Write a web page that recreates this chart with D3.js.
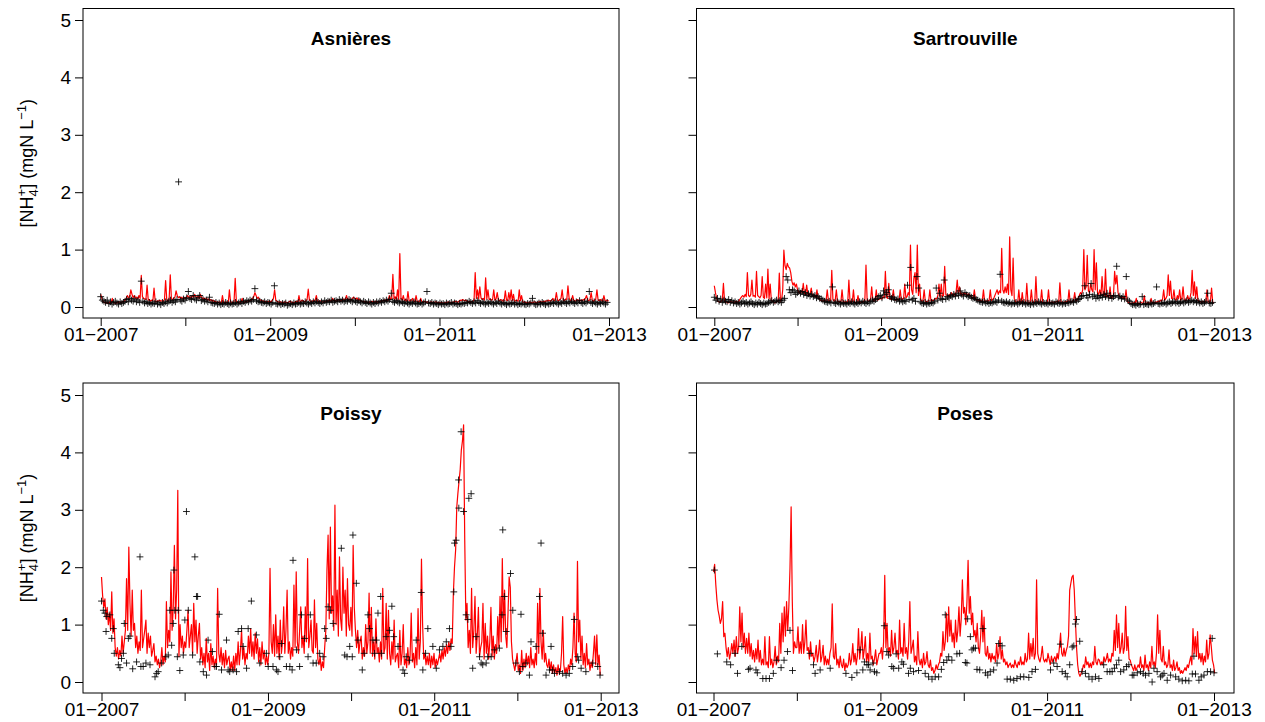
<!DOCTYPE html>
<html>
<head>
<meta charset="utf-8">
<script src="https://cdn.jsdelivr.net/npm/d3@7"></script>
<style>
  body { margin: 0; background: #fff; }
  svg { display: block; }
  text { font-family: "Liberation Sans", Arial, Helvetica, sans-serif; fill: #000; }
</style>
</head>
<body>
<svg id="chart" width="1265" height="722"></svg>
<script>
// Simulated ammonium (mgN/L), one value every 5 days from 2007-01-01
const simStepDays = 5;
// Observed ammonium: weekly samples (index = week since 2007-01-01) or [day since 2007-01-01, value]
const obsStepDays = 7;

const asnieresSim = [
  0.22,0.15,0.1,0.08,0.07,0.08,0.06,0.07,0.09,0.07, 0.15,0.08,0.07,0.06,0.08,0.07,0.09,0.08,0.07,0.1,
  0.09,0.12,0.15,0.2,0.16,0.18,0.3,0.22,0.16,0.2, 0.15,0.17,0.14,0.2,0.15,0.55,0.18,0.15,0.14,0.13,
  0.38,0.12,0.13,0.1,0.12,0.11,0.33,0.1,0.09,0.11, 0.1,0.12,0.1,0.11,0.1,0.13,0.46,0.12,0.11,0.13,
  0.56,0.14,0.13,0.15,0.17,0.28,0.2,0.16,0.18,0.15, 0.17,0.14,0.16,
  0.15,0.17,0.2,0.16,0.18,0.15,0.2,0.17,0.22,0.18, 0.16,0.19,0.15,0.22,0.17,0.14,0.16,0.13,0.15,0.12,
  0.14,0.11,0.13,0.1,0.12,0.09,0.1,0.08,0.07,0.09, 0.08,0.07,0.2,0.08,0.07,0.09,0.08,0.07,0.3,0.09,
  0.08,0.07,0.09,0.5,0.1,0.08,0.07,0.09,0.08,0.15, 0.09,0.08,0.1,0.09,0.11,0.1,0.12,0.12,0.15,0.18,
  0.25,0.2,0.15,0.17,0.13,0.12,0.1,0.11,0.09,0.1, 0.08,0.09,0.1,
  0.1,0.09,0.12,0.15,0.3,0.12,0.1,0.09,0.08,0.09, 0.08,0.07,0.08,0.09,0.08,0.07,0.08,0.1,0.09,0.08,
  0.07,0.08,0.09,0.1,0.08,0.2,0.09,0.1,0.12,0.1, 0.09,0.11,0.13,0.31,0.12,0.1,0.09,0.11,0.1,0.12,
  0.2,0.1,0.09,0.11,0.1,0.09,0.08,0.1,0.09,0.11, 0.1,0.12,0.11,0.1,0.15,0.11,0.12,0.1,0.11,0.13,
  0.12,0.1,0.12,0.14,0.12,0.13,0.2,0.12,0.14,0.13, 0.12,0.15,0.17,
  0.15,0.13,0.16,0.12,0.14,0.11,0.1,0.09,0.1,0.08, 0.09,0.08,0.07,0.09,0.08,0.1,0.09,0.08,0.1,0.09,
  0.08,0.1,0.09,0.11,0.1,0.12,0.1,0.13,0.11,0.12, 0.2,0.13,0.15,0.57,0.14,0.18,0.12,0.3,0.13,0.93,
  0.15,0.12,0.2,0.11,0.13,0.1,0.27,0.11,0.1,0.12, 0.15,0.1,0.09,0.2,0.1,0.09,0.1,0.15,0.09,0.08,
  0.1,0.09,0.08,0.09,0.07,0.08,0.09,0.08,0.07,0.08, 0.09,0.08,0.07,
  0.08,0.07,0.08,0.07,0.06,0.08,0.07,0.08,0.09,0.07, 0.08,0.07,0.09,0.08,0.1,0.09,0.08,0.1,0.12,0.11,
  0.13,0.12,0.11,0.12,0.1,0.09,0.1,0.08,0.09,0.1, 0.12,0.6,0.15,0.3,0.14,0.35,0.16,0.13,0.15,0.12,
  0.51,0.14,0.3,0.13,0.14,0.12,0.13,0.3,0.12,0.14, 0.25,0.12,0.11,0.13,0.12,0.1,0.11,0.28,0.12,0.11,
  0.25,0.12,0.3,0.11,0.22,0.1,0.11,0.12,0.1,0.3, 0.11,0.2,0.09,
  0.08,0.09,0.07,0.08,0.07,0.09,0.08,0.07,0.08,0.09, 0.08,0.07,0.09,0.08,0.1,0.09,0.08,0.1,0.09,0.11,
  0.1,0.12,0.11,0.1,0.12,0.15,0.11,0.12,0.25,0.12, 0.11,0.13,0.15,0.3,0.12,0.11,0.14,0.13,0.37,0.15,
  0.12,0.11,0.2,0.12,0.1,0.11,0.13,0.12,0.1,0.12, 0.11,0.13,0.12,0.15,0.2,0.12,0.11,0.13,0.25,0.12,
  0.1,0.12,0.14,0.3,0.12,0.11,0.13,0.12,0.1,0.2, 0.11,0.1,0.12,0.1
];

const sartrouvilleSim = [
  0.37,0.25,0.15,0.1,0.09,0.08,0.1,0.12,0.41,0.1, 0.08,0.09,0.07,0.08,0.1,0.09,0.08,0.07,0.09,0.1,
  0.08,0.09,0.12,0.15,0.18,0.2,0.17,0.22,0.18,0.6, 0.2,0.18,0.22,0.47,0.19,0.2,0.17,0.62,0.2,0.18,
  0.16,0.2,0.53,0.17,0.15,0.4,0.16,0.66,0.14,0.4, 0.12,0.1,0.09,0.07,0.08,0.1,0.09,0.59,0.1,0.12,
  0.3,0.99,0.72,0.65,0.76,0.7,0.68,0.6,0.45,0.38, 0.42,0.35,0.4,
  0.3,0.26,0.24,0.28,0.25,0.41,0.24,0.22,0.38,0.22, 0.2,0.23,0.33,0.2,0.18,0.2,0.17,0.3,0.16,0.14,
  0.12,0.11,0.1,0.12,0.1,0.11,0.3,0.12,0.1,0.11, 0.64,0.13,0.1,0.11,0.3,0.1,0.09,0.1,0.09,0.3,
  0.1,0.08,0.09,0.08,0.09,0.47,0.1,0.08,0.09,0.3, 0.08,0.07,0.09,0.2,0.08,0.07,0.09,0.08,0.1,0.12,
  0.73,0.12,0.1,0.11,0.13,0.35,0.12,0.1,0.11,0.3, 0.12,0.13,0.14,
  0.15,0.14,0.18,0.16,0.62,0.17,0.15,0.41,0.14,0.13, 0.15,0.3,0.13,0.12,0.14,0.13,0.12,0.3,0.13,0.14,
  0.15,0.4,0.16,0.18,0.25,0.2,1.08,0.3,0.22,0.5, 0.6,0.25,1.08,0.2,0.4,0.12,0.1,0.11,0.3,0.1,
  0.09,0.1,0.11,0.3,0.1,0.12,0.11,0.13,0.15,0.14, 0.2,0.4,0.16,0.4,0.18,0.2,0.71,0.22,0.2,0.18,
  0.22,0.2,0.25,0.21,0.23,0.2,0.26,0.47,0.24,0.35, 0.22,0.24,0.2,
  0.25,0.22,0.24,0.2,0.23,0.21,0.18,0.16,0.15,0.3, 0.14,0.12,0.13,0.11,0.12,0.1,0.11,0.3,0.1,0.09,
  0.11,0.1,0.12,0.3,0.11,0.13,0.15,0.2,0.25,0.3, 0.22,0.28,0.25,1.02,0.3,0.24,0.35,0.25,0.4,0.22,
  1.22,0.3,0.2,0.85,0.15,0.1,0.08,0.07,0.3,0.08, 0.07,0.25,0.08,0.07,0.09,0.41,0.08,0.07,0.09,0.3,
  0.08,0.07,0.09,0.53,0.1,0.08,0.07,0.09,0.3,0.08, 0.07,0.08,0.07,
  0.08,0.3,0.08,0.07,0.09,0.08,0.07,0.08,0.1,0.09, 0.08,0.42,0.09,0.08,0.07,0.09,0.08,0.1,0.09,0.3,
  0.09,0.08,0.1,0.12,0.25,0.1,0.12,0.15,0.2,0.25, 0.22,0.3,1.0,0.3,0.35,0.9,0.28,0.25,0.4,0.3,
  0.26,1.0,0.3,0.77,0.25,0.22,0.3,0.2,0.53,0.22, 0.2,0.66,0.18,0.2,0.16,0.35,0.15,0.17,0.2,0.62,
  0.4,0.55,0.25,0.2,0.17,0.15,0.18,0.16,0.14,0.3, 0.1,0.08,0.07,
  0.06,0.07,0.06,0.08,0.07,0.15,0.06,0.07,0.06,0.08, 0.07,0.06,0.2,0.07,0.06,0.08,0.07,0.06,0.15,0.07,
  0.08,0.07,0.09,0.08,0.1,0.09,0.12,0.1,0.13,0.3, 0.12,0.15,0.2,0.56,0.2,0.45,0.15,0.14,0.3,0.13,
  0.12,0.2,0.14,0.3,0.12,0.15,0.35,0.13,0.11,0.12, 0.2,0.13,0.15,0.25,0.64,0.2,0.44,0.15,0.35,0.12,
  0.1,0.09,0.08,0.1,0.09,0.08,0.1,0.3,0.09,0.08, 0.1,0.33,0.08,0.07
];

const poissySim = [
  1.83,1.5,1.3,1.45,1.1,1.3,1.0,1.2,0.9,1.57, 0.85,1.1,0.6,0.45,0.6,0.4,0.55,0.45,0.8,0.5,
  0.7,0.9,1.8,0.9,2.35,1.37,0.8,1.6,0.9,1.02, 0.6,0.8,0.5,0.7,0.55,1.6,0.6,0.75,0.9,1.08,
  0.5,0.85,0.6,0.8,0.45,0.55,0.67,0.35,0.45,0.3, 0.4,0.25,0.35,0.6,0.3,0.45,0.35,1.4,0.6,0.9,
  0.7,1.92,0.9,1.3,2.38,1.1,1.6,3.34,0.44,1.0, 0.6,0.8,0.5,0.7,
  0.6,0.9,1.25,0.6,0.8,1.0,0.5,1.37,0.7,1.08, 0.5,0.8,1.02,0.4,0.6,0.3,0.5,0.25,0.76,0.35,
  0.5,0.2,0.67,0.3,0.45,0.25,0.4,0.3,1.63,0.5, 0.35,0.6,0.3,0.5,0.25,0.55,0.3,0.4,0.45,0.2,
  0.35,0.2,0.45,0.2,0.5,0.3,0.7,0.3,0.55,0.9, 0.4,0.6,0.3,0.5,0.4,0.8,0.5,0.93,0.45,0.7,
  0.4,0.85,0.5,0.75,0.35,0.6,0.3,0.7,0.4,0.55, 0.3,0.45,0.3,0.5,
  1.98,0.7,0.5,1.0,0.45,1.17,0.5,0.8,0.4,1.08, 0.5,0.7,1.31,0.5,0.9,1.6,0.5,0.7,0.4,0.6,
  0.45,1.69,0.6,1.92,0.7,0.5,0.9,1.31,0.6,0.8, 0.5,1.31,0.7,2.15,0.6,0.8,1.08,0.55,0.5,1.43,
  0.6,1.02,0.4,0.3,0.45,0.2,0.35,0.25,0.6,0.9, 1.95,2.56,1.1,2.7,1.2,1.5,0.9,3.08,1.0,1.6,
  0.8,2.18,1.1,0.9,2.0,1.2,1.6,0.8,1.8,1.0, 0.9,1.3,0.8,2.38,
  1.3,0.9,0.6,0.9,0.5,0.7,0.8,0.4,0.6,0.45, 1.0,0.5,0.7,1.55,0.5,1.3,0.45,0.7,0.4,1.1,
  0.5,0.6,0.35,0.7,0.4,1.63,0.5,0.6,1.37,0.4, 1.25,0.5,0.3,0.7,0.4,1.08,0.35,0.45,0.5,0.25,
  0.9,0.3,0.5,1.0,0.3,0.4,0.25,0.6,0.3,0.45, 1.2,0.35,0.5,0.25,0.6,0.3,1.28,0.4,0.7,2.14,
  1.0,0.4,0.5,0.3,0.45,0.3,0.5,0.25,0.45,0.3, 0.5,0.25,0.4,0.3,
  0.4,0.5,0.35,0.55,0.4,0.6,0.45,0.65,0.5,0.7, 0.55,0.75,0.67,1.54,2.0,2.3,3.05,3.29,3.5,3.7,
  4.04,4.2,4.48,2.47,1.08,1.37,0.6,0.9,0.5,1.63, 0.6,0.9,1.49,0.5,0.8,1.3,0.45,0.6,0.7,1.37,
  0.4,1.02,0.5,0.8,0.4,0.7,1.3,0.45,0.8,0.4, 0.65,0.5,1.14,0.6,1.49,0.7,2.15,0.9,1.6,0.8,
  0.6,1.2,1.83,1.65,0.7,0.4,0.3,0.2,0.35,0.5, 0.2,0.3,0.15,0.55,
  0.2,0.4,0.25,0.5,0.3,0.45,0.25,0.6,0.3,0.4, 0.25,0.5,0.3,1.37,0.5,1.63,0.7,0.4,0.9,0.35,
  0.5,0.3,0.25,0.4,0.2,0.35,0.15,0.3,0.15,0.25, 0.12,0.3,0.15,0.2,0.5,1.14,0.3,0.15,0.25,0.15,
  0.3,0.2,0.4,0.3,0.6,1.2,0.5,0.35,2.1,0.7, 1.08,0.4,0.8,0.3,0.5,0.25,0.67,0.3,0.4,0.2,
  0.35,0.25,0.5,0.8,0.3,0.82,0.3,0.47,0.12
];

const posesSim = [
  1.92,2.05,1.7,1.43,1.25,1.15,1.02,1.1,1.4,0.79, 0.85,0.6,0.44,0.6,0.4,0.5,0.67,0.5,0.73,0.45,
  0.79,0.5,0.6,1.31,0.7,1.2,0.6,0.85,0.5,0.76, 0.5,0.85,0.45,0.67,0.4,0.55,0.35,0.58,0.4,0.73,
  0.35,0.55,0.3,0.4,0.3,0.79,0.3,0.35,0.25,0.79, 0.3,0.4,0.25,0.35,0.62,0.3,0.45,0.35,1.02,0.5,
  1.2,0.7,1.31,0.8,1.4,0.9,1.31,1.98,3.05,1.43, 0.5,0.7,0.6,
  0.6,0.96,0.5,0.7,0.5,1.0,0.5,0.7,1.08,0.55, 0.6,0.4,0.7,0.45,0.5,0.35,0.45,0.64,0.35,0.5,
  0.73,0.35,0.45,0.64,0.3,0.45,0.3,0.4,0.3,0.5, 0.6,1.36,0.45,0.4,0.67,0.3,0.4,0.25,0.45,0.3,
  0.25,0.4,0.2,0.33,0.25,0.3,0.5,0.3,0.4,0.67, 0.35,0.5,0.3,0.45,0.93,0.4,0.6,0.88,0.4,0.55,
  0.79,0.35,0.5,0.35,0.85,0.4,0.45,0.3,0.4,0.56, 0.3,0.4,0.5,
  0.5,0.6,0.4,0.7,1.86,0.6,1.02,0.5,0.6,0.45, 0.9,0.5,0.6,0.85,0.5,0.55,0.4,1.08,0.5,0.6,
  0.45,1.02,0.5,0.6,0.4,0.7,1.4,0.5,0.6,0.73, 0.35,0.45,0.3,0.88,0.4,0.3,0.4,0.25,0.5,0.3,
  0.35,0.53,0.3,0.25,0.38,0.2,0.25,0.15,0.2,0.3, 0.22,0.3,0.35,0.5,0.45,0.88,0.55,0.7,1.2,0.7,
  1.31,0.8,1.08,0.7,0.85,0.6,1.08,0.7,0.9,1.31, 0.8,1.1,1.78,
  1.2,1.3,1.0,1.4,2.12,1.2,1.49,1.0,1.2,0.8, 0.9,0.7,1.02,0.6,0.5,0.8,1.25,0.7,1.13,0.5,
  0.45,0.62,0.4,0.5,0.35,0.5,0.4,0.45,0.35,0.67, 0.4,0.5,0.79,0.4,0.56,0.35,0.4,0.3,0.35,0.25,
  0.3,0.33,0.25,0.3,0.25,0.38,0.3,0.25,0.35,0.3, 0.44,0.3,0.35,0.3,0.5,0.35,0.4,0.85,0.4,0.67,
  0.45,0.76,0.4,0.5,1.78,0.5,0.4,0.35,0.45,0.62, 0.4,0.35,0.4,
  0.35,0.5,0.4,0.3,0.45,0.35,0.4,0.44,0.35,0.5, 0.4,0.6,0.85,0.5,0.45,0.59,0.45,0.55,0.62,0.8,
  1.6,1.72,1.83,1.86,1.6,1.08,0.6,0.3,0.15,0.1, 0.15,0.2,0.3,0.25,0.44,0.3,0.35,0.25,0.33,0.25,
  0.35,0.3,0.62,0.35,0.3,0.4,0.38,0.3,0.35,0.3, 0.44,0.35,0.4,0.5,0.35,0.4,0.35,0.5,0.45,0.9,
  0.55,1.17,0.6,1.02,0.5,0.6,0.85,0.5,0.6,1.32, 0.55,0.79,0.4,
  0.38,0.3,0.25,0.2,0.3,0.2,0.25,0.3,0.25,0.44, 0.25,0.3,0.2,0.47,0.25,0.3,0.2,0.35,0.25,0.62,
  0.3,0.35,0.25,0.5,1.17,0.5,0.9,0.4,0.35,0.62, 0.3,0.35,0.25,0.3,0.56,0.25,0.3,0.2,0.38,0.2,
  0.25,0.35,0.2,0.25,0.15,0.2,0.15,0.2,0.25,0.2, 0.3,0.25,0.35,0.44,0.3,0.93,0.5,0.79,0.45,0.88,
  0.4,0.5,0.35,0.5,0.3,0.45,0.35,0.73,0.4,0.5, 0.82,0.62,0.38,0.3,0.15
];

const asnieresObs = [
  0.18,0.12,0.1,0.08,0.12,0.06,0.09,0.05,0.08,0.1, 0.07,0.05,0.09,0.06,0.08,0.1,0.13,0.09,0.15,0.12,
  0.1,0.14,0.09,0.12,0.08,0.45,0.1,0.07,0.09,0.06, 0.08,0.05,0.07,0.06,0.09,0.05,0.07,0.04,0.08,0.06,
  0.09,0.07,0.1,0.12,0.08,0.11,0.09,0.13,2.18,0.12, 0.1,0.14,0.12,0.16,0.27,0.15,0.13,0.2,0.14,0.12,
  0.16,0.2,0.11,0.13,0.1,0.12,0.09,0.17,0.08,0.07, 0.06,0.08,0.05,0.07,0.04,0.06,0.05,0.08,0.06,0.04,
  0.07,0.05,0.06,0.08,0.05,0.07,0.09,0.06,0.1,0.08, 0.11,0.09,0.12,0.1,0.13,0.32,0.11,0.09,0.1,0.08,
  0.07,0.09,0.06,0.08,0.07,0.05,0.08,0.37,0.06,0.05, 0.07,0.04,0.06,0.05,0.07,0.03,0.05,0.06,0.04,0.07,
  0.05,0.06,0.08,0.05,0.07,0.06,0.09,0.07,0.05,0.08, 0.06,0.09,0.07,0.1,0.08,0.06,0.09,0.07,0.11,0.08,
  0.1,0.09,0.12,0.08,0.1,0.11,0.09,0.13,0.1,0.12, 0.09,0.11,0.1,0.13,0.11,0.09,0.12,0.1,0.08,0.11,
  0.09,0.07,0.1,0.08,0.06,0.09,0.07,0.05,0.08,0.06, 0.09,0.07,0.1,0.08,0.11,0.09,0.12,0.1,0.13,0.24,
  0.1,0.08,0.11,0.09,0.07,0.1,0.08,0.06,0.09,0.07, 0.05,0.08,0.06,0.09,0.07,0.05,0.06,0.08,0.05,0.07,
  0.09,0.27,0.07,0.06,0.08,0.05,0.07,0.06,0.04,0.07, 0.05,0.06,0.04,0.07,0.05,0.06,0.08,0.05,0.07,0.06,
  0.04,0.06,0.05,0.07,0.06,0.08,0.07,0.1,0.08,0.06, 0.09,0.07,0.11,0.08,0.06,0.09,0.07,0.05,0.08,0.06,
  0.09,0.07,0.05,0.08,0.06,0.1,0.07,0.05,0.08,0.06, 0.04,0.07,0.05,0.06,0.08,0.05,0.07,0.04,0.06,0.05,
  0.07,0.05,0.04,0.06,0.05,0.07,0.15,0.06,0.04,0.05, 0.07,0.05,0.08,0.06,0.04,0.07,0.05,0.06,0.08,0.06,
  0.09,0.07,0.05,0.08,0.06,0.1,0.08,0.06,0.09,0.07, 0.1,0.08,0.06,0.09,0.07,0.11,0.08,0.06,0.09,0.07,
  0.1,0.27,0.08,0.06,0.09,0.07,0.05,0.08,0.06,0.09, 0.07,0.05,0.08
];

const sartrouvilleObs = [
  0.17,0.12,0.15,0.1,0.14,0.08,0.12,0.1,0.09,0.13, 0.08,0.11,0.07,0.09,0.06,0.08,0.05,0.07,0.1,0.06,
  0.08,0.05,0.07,0.09,0.06,0.04,0.07,0.05,0.08,0.06, 0.04,0.07,0.05,0.06,0.08,0.09,0.11,0.08,0.1,0.12,
  0.09,0.11,0.08,0.12,0.15,0.53,0.47,0.3,0.25,0.3, 0.28,0.22,0.25,0.28,0.24,0.27,0.22,0.25,0.2,0.23,
  0.19,0.22,0.18,0.2,0.16,0.18,0.15,0.14,0.12,0.1, 0.09,0.08,0.1,0.07,0.35,0.08,0.06,0.09,0.07,0.05,
  0.08,0.06,0.07,0.05,0.08,0.06,0.09,0.07,0.05,0.08, 0.06,0.09,0.07,0.1,0.08,0.06,0.09,0.07,0.1,0.12,
  0.1,0.13,0.15,0.18,0.2,0.16,0.28,0.22,0.25,0.3, 0.18,0.15,0.17,0.13,0.12,0.14,0.1,0.12,0.09,0.11,
  0.1,0.38,0.13,0.69,0.12,0.15,0.1,0.53,0.33,0.09, 0.07,0.06,0.08,0.05,0.07,0.06,0.08,0.07,0.1,0.33,
  0.12,0.24,0.15,0.13,0.47,0.14,0.18,0.16,0.2,0.18, 0.22,0.19,0.24,0.2,0.28,0.22,0.19,0.25,0.21,0.18,
  0.2,0.17,0.15,0.16,0.13,0.12,0.1,0.09,0.08,0.1, 0.07,0.09,0.06,0.08,0.07,0.09,0.1,0.08,0.12,0.57,
  0.1,0.08,0.07,0.09,0.06,0.08,0.05,0.07,0.06,0.08, 0.05,0.07,0.09,0.06,0.08,0.05,0.07,0.06,0.04,0.07,
  0.05,0.08,0.06,0.09,0.07,0.05,0.08,0.06,0.07,0.05, 0.08,0.06,0.07,0.05,0.09,0.07,0.06,0.08,0.05,0.07,
  0.06,0.08,0.07,0.09,0.1,0.08,0.12,0.1,0.13,0.15, 0.18,0.2,0.37,0.2,0.16,0.22,0.41,0.18,0.21,0.15,
  0.19,0.16,0.2,0.17,0.22,0.18,0.24,0.16,0.2,0.15, 0.18,0.2,0.71,0.17,0.19,0.15,0.18,0.14,0.53,0.12,
  0.1,0.06,0.04,0.05,0.03,0.06,0.04,0.05,0.18,0.04, 0.06,0.05,0.04,0.07,0.05,0.06,0.08,0.35,0.06,0.05,
  0.07,0.06,0.08,0.05,0.07,0.09,0.06,0.08,0.1,0.07, 0.09,0.06,0.08,0.1,0.07,0.09,0.11,0.08,0.1,0.12,
  0.09,0.11,0.08,0.1,0.07,0.09,0.06,0.08,0.1,0.24, 0.07,0.06,0.08
];

const poissyObs = [
  [0,1.41],[8,1.25],[15,1.2],[20,0.88],[23,1.14],[37,1.17],[45,0.76],[52,0.93],[56,0.5],[74,0.3],
  [81,0.25],[88,0.41],[96,0.5],[100,1.02],[110,0.33],[118,0.76],[125,0.8],[137,0.23],[154,0.35],[169,2.18],
  [173,0.27],[183,0.27],[195,0.33],[213,0.3],[235,0.09],[242,0.15],[249,0.18],[264,0.33],[283,0.44],[293,0.47],
  [300,1.25],[308,0.64],[315,1.02],[318,1.95],[322,1.25],[333,0.44],[337,1.25],[344,0.2],[359,0.47],[366,1.08],
  [373,2.97],[381,1.25],[400,0.47],[410,2.18],[417,1.49],[422,1.49],[432,0.35],[447,0.18],[461,0.12],[468,0.73],
  [487,0.53],[498,0.27],[505,0.27],[517,1.18],[527,0.21],[549,0.73],[556,0.21],[563,0.18],[578,0.21],[593,0.18],
  [600,0.88],[615,0.93],[622,0.62],[637,0.24],[644,0.93],[658,1.41],[680,0.82],[695,0.33],[724,0.5],[732,0.27],
  [753,0.27],[768,0.21],[775,0.18],[783,0.44],[790,0.67],[812,0.27],[827,0.27],[837,0.21],[841,2.12],[856,0.56],
  [870,0.27],[878,1.17],[892,0.76],[907,0.44],[917,1.17],[929,0.33],[943,0.33],[958,0.5],[973,0.44],[980,0.93],
  [987,0.76],[995,1.31],[1005,1.25],[1017,1.02],[1053,2.33],[1068,0.47],[1078,0.44],[1090,0.62],[1101,0.44],[1104,2.56],
  [1119,1.72],[1126,0.73],[1145,0.21],[1153,0.5],[1170,1.17],[1177,0.93],[1192,0.73],[1199,0.5],[1207,0.73],[1214,1.2],
  [1226,1.49],[1229,0.5],[1250,0.79],[1265,0.9],[1275,1.32],[1283,0.79],[1302,0.62],[1324,0.21],[1331,0.15],[1338,0.44],
  [1353,0.38],[1382,0.73],[1404,1.56],[1411,0.21],[1423,0.5],[1433,0.93],[1455,0.62],[1470,0.24],[1484,0.56],[1499,0.62],
  [1514,0.7],[1528,0.93],[1535,0.62],[1547,1.57],[1550,2.42],[1557,2.47],[1568,3.52],[1569,3.03],[1579,4.36],[1590,2.97],
  [1601,1.17],[1609,1.09],[1613,3.2],[1623,3.28],[1630,0.24],[1645,0.79],[1660,0.44],[1667,0.33],[1674,0.3],[1689,0.33],
  [1696,0.44],[1711,0.44],[1725,0.56],[1747,0.59],[1759,1.17],[1762,2.65],[1769,1.49],[1777,0.88],[1796,1.89],[1806,1.25],
  [1820,0.33],[1835,0.18],[1842,1.18],[1850,0.27],[1864,0.33],[1879,0.12],[1886,0.7],[1908,0.62],[1923,1.49],[1930,2.42],
  [1937,0.85],[1952,0.12],[1967,0.21],[1974,0.62],[1981,0.21],[1989,0.15],[2011,0.18],[2025,0.15],[2040,0.12],[2054,0.15],
  [2069,0.27],[2076,1.09],[2091,0.44],[2095,0.38],[2106,0.24],[2127,0.18],[2157,0.33],[2179,0.27],[2189,0.12]
];

const posesObs = [
  [4,1.95],[17,0.49],[58,0.35],[75,0.3],[94,0.5],[105,0.15],[124,0.62],[153,0.22],[160,0.24],[186,0.21],
  [192,0.16],[216,0.06],[230,0.06],[245,0.06],[262,0.15],[277,0.38],[296,0.25],[309,0.38],[324,0.53],[335,0.9],
  [346,0.2],[423,0.5],[438,0.3],[445,0.15],[467,0.21],[511,0.24],[580,0.15],[606,0.08],[628,0.16],[642,0.56],
  [654,0.21],[661,0.35],[672,0.3],[679,0.3],[686,0.21],[698,0.33],[705,0.18],[715,0.16],[748,0.98],[759,0.53],
  [767,0.47],[781,0.27],[789,0.24],[800,0.49],[811,0.24],[825,0.35],[832,0.31],[854,0.15],[862,0.24],[876,0.18],
  [898,0.2],[927,0.15],[942,0.09],[957,0.05],[971,0.09],[986,0.09],[998,0.22],[1008,0.34],[1015,1.17],[1022,0.38],
  [1030,0.44],[1044,0.38],[1066,0.49],[1078,0.5],[1103,0.34],[1110,0.33],[1113,1.1],[1125,0.79],[1132,0.56],[1139,0.59],
  [1147,0.59],[1154,0.22],[1166,0.21],[1180,0.93],[1191,0.16],[1201,0.12],[1212,0.18],[1227,0.21],[1242,0.33],[1249,0.67],
  [1264,0.63],[1286,0.05],[1300,0.05],[1315,0.03],[1329,0.06],[1344,0.09],[1359,0.09],[1381,0.08],[1395,0.18],[1410,0.22],
  [1476,0.21],[1490,0.33],[1505,0.27],[1519,0.66],[1527,0.18],[1541,0.15],[1549,0.09],[1560,0.3],[1571,0.61],[1578,0.63],
  [1585,1.01],[1590,1.09],[1604,0.71],[1614,0.18],[1629,0.15],[1644,0.09],[1658,0.05],[1673,0.09],[1688,0.06],[1709,0.3],
  [1724,0.18],[1736,0.18],[1746,0.18],[1756,0.24],[1765,0.3],[1775,0.38],[1783,0.18],[1797,0.21],[1809,0.27],[1819,0.3],
  [1834,0.12],[1841,0.12],[1856,0.16],[1870,0.18],[1882,0.15],[1892,0.12],[1907,0.15],[1921,0.0],[1929,0.24],[1943,0.18],
  [1958,0.09],[1965,0.12],[1973,0.15],[1987,0.03],[2002,0.12],[2024,0.09],[2038,0.05],[2053,0.02],[2068,0.03],[2082,0.02],
  [2097,0.14],[2104,0.45],[2111,0.14],[2126,0.03],[2136,0.09],[2148,0.12],[2163,0.18],[2177,0.18],[2184,0.76],[2192,0.16]
];

const stationNames = ["Asnières", "Sartrouville", "Poissy", "Poses"];
const yTickValues = [0, 1, 2, 3, 4, 5];
const yearTicks = [2007, 2008, 2009, 2010, 2011, 2012, 2013];
const labelledYears = [2007, 2009, 2011, 2013];

// ---------------------------------------------------------------------------
const DAY = 864e5;
const t0 = Date.UTC(2007, 0, 1);
const dateAt = days => new Date(t0 + days * DAY);

const simPoints = arr => arr.map((v, i) => ({ date: dateAt(i * simStepDays), value: v }));
const obsPoints = arr => arr.map((d, i) => Array.isArray(d)
  ? { date: dateAt(d[0]), value: d[1] }
  : { date: dateAt(i * obsStepDays), value: d });

const stations = [
  { title: stationNames[0], sim: simPoints(asnieresSim),     obs: obsPoints(asnieresObs) },
  { title: stationNames[1], sim: simPoints(sartrouvilleSim), obs: obsPoints(sartrouvilleObs) },
  { title: stationNames[2], sim: simPoints(poissySim),       obs: obsPoints(poissyObs) },
  { title: stationNames[3], sim: simPoints(posesSim),        obs: obsPoints(posesObs) }
];

// Panel frames (plot box) and the pixel span of 2007-01 .. 2013-01 in each
const frames = [
  { box: [83, 8.5, 619, 318],     xr: [100.7, 609],    yr: [307, 20],  left: true },
  { box: [696.5, 8.5, 1234, 318], xr: [714.3, 1214.3], yr: [307, 20],  left: false },
  { box: [83, 383, 619, 693],     xr: [101.5, 600.7],  yr: [682, 395], left: true },
  { box: [696.5, 383, 1234, 693], xr: [713.5, 1214],   yr: [682, 395], left: false }
];

const svg = d3.select("#chart");
const fmtTick = d3.utcFormat("%m\u2212%Y");
const FONT = 19;

stations.forEach((st, k) => {
  const f = frames[k];
  const [bx0, by0, bx1, by1] = f.box;
  const g = svg.append("g");

  const x = d3.scaleUtc().domain([new Date(t0), new Date(Date.UTC(2013, 0, 1))]).range(f.xr);
  const y = d3.scaleLinear().domain([0, 5]).range(f.yr);

  // simulated series
  g.append("path")
    .datum(st.sim)
    .attr("fill", "none")
    .attr("stroke", "#ff0000")
    .attr("stroke-width", 1.2)
    .attr("stroke-linejoin", "round")
    .attr("d", d3.line().x(d => x(d.date)).y(d => y(d.value)));

  // observations as "+" symbols
  const arm = 3.4;
  g.append("g").selectAll("path")
    .data(st.obs)
    .join("path")
    .attr("transform", d => `translate(${x(d.date)},${y(d.value)})`)
    .attr("d", `M${-arm},0H${arm}M0,${-arm}V${arm}`)
    .attr("stroke", "#000")
    .attr("stroke-opacity", 0.85)
    .attr("stroke-width", 1)
    .attr("fill", "none");

  // plot frame
  g.append("rect")
    .attr("x", bx0).attr("y", by0)
    .attr("width", bx1 - bx0).attr("height", by1 - by0)
    .attr("fill", "none").attr("stroke", "#000").attr("stroke-width", 1);

  // x axis
  const xAxis = d3.axisBottom(x)
    .tickValues(yearTicks.map(yr => new Date(Date.UTC(yr, 0, 1))))
    .tickSize(8).tickPadding(2)
    .tickFormat(d => labelledYears.includes(d.getUTCFullYear()) ? fmtTick(d) : "");
  const gx = g.append("g").attr("transform", `translate(0,${by1})`).call(xAxis);
  gx.select(".domain").remove();
  gx.selectAll("line").attr("stroke", "#000");
  gx.selectAll("text").attr("font-size", FONT).attr("fill", "#000")
    .attr("font-family", '"Liberation Sans", Arial, sans-serif');

  // y axis
  const yAxis = d3.axisLeft(y).tickValues(yTickValues).tickSize(8).tickPadding(4)
    .tickFormat(f.left ? d3.format("d") : () => "");
  const gy = g.append("g").attr("transform", `translate(${bx0},0)`).call(yAxis);
  gy.select(".domain").remove();
  gy.selectAll("line").attr("stroke", "#000");
  gy.selectAll("text").attr("font-size", FONT).attr("fill", "#000")
    .attr("font-family", '"Liberation Sans", Arial, sans-serif');

  // station title
  g.append("text")
    .attr("x", (bx0 + bx1) / 2).attr("y", by0 + 36.5)
    .attr("text-anchor", "middle")
    .attr("font-size", 19).attr("font-weight", "bold")
    .text(st.title);

  // y axis title
  if (f.left) {
    const cy = (by0 + by1) / 2;
    const t = g.append("text")
      .attr("transform", `translate(33,${cy}) rotate(-90)`)
      .attr("text-anchor", "middle")
      .attr("font-size", 18);
    t.append("tspan").text("[NH");
    t.append("tspan").attr("font-size", 13).attr("dy", 5).text("4");
    t.append("tspan").attr("font-size", 13).attr("dx", -7.2).attr("dy", -12).text("+");
    t.append("tspan").attr("dy", 7).text("] (mgN L");
    t.append("tspan").attr("font-size", 13).attr("dy", -7).text("\u22121");
    t.append("tspan").attr("dy", 7).text(")");
  }
});
</script>
</body>
</html>
